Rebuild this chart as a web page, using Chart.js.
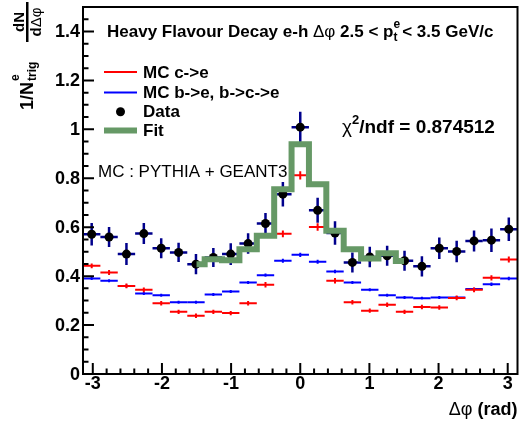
<!DOCTYPE html>
<html lang="en">
<head>
<meta charset="UTF-8">
<title>Heavy Flavour Decay e-h</title>
<script src="https://cdn.jsdelivr.net/npm/chart.js"></script>
<style>
  html, body { margin: 0; padding: 0; background: #fff; }
  canvas { display: block; }
</style>
</head>
<body>
<canvas id="grafico" width="522" height="421"></canvas>
<script>
  // binning: 25 bins in delta phi over [-pi, pi]
  const nBins = 25;
  const phiMin = -Math.PI;
  const phiMax = Math.PI;

  // data points and their errors
  const dataY = [0.571, 0.560, 0.490, 0.574, 0.514, 0.497, 0.449, 0.476, 0.490, 0.533, 0.615, 0.735, 1.009,
                 0.669, 0.576, 0.456, 0.478, 0.483, 0.463, 0.440, 0.514, 0.501, 0.544, 0.547, 0.592];
  const dataErr = [0.046, 0.041, 0.045, 0.043, 0.041, 0.039, 0.041, 0.039, 0.044, 0.042, 0.043, 0.050, 0.063,
                   0.051, 0.048, 0.041, 0.042, 0.041, 0.041, 0.041, 0.044, 0.044, 0.043, 0.048, 0.048];

  // MC c->e
  const mcCharm = [0.442, 0.415, 0.360, 0.344, 0.289, 0.254, 0.238, 0.254, 0.249, 0.289, 0.365, 0.573, 0.812,
                   0.601, 0.381, 0.293, 0.259, 0.283, 0.254, 0.274, 0.272, 0.311, 0.344, 0.393, 0.468];
  const mcCharmErr = [0.010, 0.010, 0.010, 0.010, 0.009, 0.009, 0.009, 0.009, 0.009, 0.009, 0.011, 0.014, 0.017,
                      0.015, 0.011, 0.009, 0.009, 0.009, 0.009, 0.009, 0.009, 0.010, 0.010, 0.011, 0.012];

  // MC b->e, b->c->e
  const mcBeauty = [0.390, 0.381, 0.360, 0.329, 0.322, 0.293, 0.293, 0.325, 0.337, 0.374, 0.404, 0.463, 0.487,
                    0.459, 0.419, 0.374, 0.344, 0.322, 0.313, 0.310, 0.313, 0.313, 0.347, 0.367, 0.390];
  const mcBeautyErr = [0.006, 0.006, 0.006, 0.006, 0.006, 0.006, 0.006, 0.006, 0.006, 0.006, 0.007, 0.008, 0.009,
                       0.008, 0.007, 0.006, 0.006, 0.006, 0.006, 0.006, 0.006, 0.006, 0.006, 0.007, 0.007];

  // fit, one value per bin from bin 6 to bin 18, range -1.5 .. 1.5
  const fitMin = -1.5;
  const fitMax = 1.5;
  const fitFirstBin = 6;
  const fitValues = [0.449, 0.469, 0.465, 0.510, 0.565, 0.755, 0.939, 0.776, 0.585, 0.510, 0.472, 0.494, 0.462];
  const chi2ndf = '0.874512';

  const xTicks = [-3, -2, -1, 0, 1, 2, 3];
  const yTicks = [0, 0.2, 0.4, 0.6, 0.8, 1, 1.2, 1.4];
  const yMax = 1.5;

  const binWidth = (phiMax - phiMin) / nBins;
  const binLow = i => phiMin + i * binWidth;
  const binCenter = i => phiMin + (i + 0.5) * binWidth;

  const pontosDados = dataY.map((y, i) => ({ x: binCenter(i), y: y }));

  // step line for the fit: starts at fitMin, changes at bin edges, ends at fitMax
  const pontosFit = fitValues.map((y, k) => ({ x: k === 0 ? fitMin : binLow(fitFirstBin + k), y: y }));
  pontosFit.push({ x: fitMax, y: fitValues[fitValues.length - 1] });

  const BOLD = "bold 17px 'Liberation Sans', Arial, sans-serif";
  const REG = "17px 'Liberation Sans', Arial, sans-serif";

  // draws a list of text pieces one after the other
  function textoRico(ctx, partes, x, y) {
    let cx = x;
    partes.forEach(p => {
      ctx.font = p.font;
      ctx.fillText(p.t, cx, y + (p.dy || 0));
      if (!p.noAdvance) cx += ctx.measureText(p.t).width;
    });
    return cx;
  }

  function largura(ctx, partes) {
    let w = 0;
    partes.forEach(p => { ctx.font = p.font; if (!p.noAdvance) w += ctx.measureText(p.t).width; });
    return w;
  }

  // MC histograms and data error bars, below the datasets
  const barrasPlugin = {
    id: 'barras',
    beforeDatasetsDraw(chart) {
      const ctx = chart.ctx;
      const xs = chart.scales.x, ys = chart.scales.y;
      ctx.save();
      ctx.lineCap = 'butt';

      function histo(vals, errs, cor) {
        ctx.strokeStyle = cor;
        ctx.lineWidth = 2;
        vals.forEach((v, i) => {
          const x1 = xs.getPixelForValue(binLow(i));
          const x2 = xs.getPixelForValue(binLow(i + 1));
          const xc = xs.getPixelForValue(binCenter(i));
          const yp = ys.getPixelForValue(v);
          ctx.beginPath();
          ctx.moveTo(x1, yp); ctx.lineTo(x2, yp);
          ctx.moveTo(xc, ys.getPixelForValue(v - errs[i]));
          ctx.lineTo(xc, ys.getPixelForValue(v + errs[i]));
          ctx.stroke();
        });
      }
      histo(mcBeauty, mcBeautyErr, '#0000ff');
      histo(mcCharm, mcCharmErr, '#ff0000');

      // data error bars
      ctx.strokeStyle = '#00008c';
      ctx.lineWidth = 2.5;
      dataY.forEach((v, i) => {
        const x1 = xs.getPixelForValue(binLow(i));
        const x2 = xs.getPixelForValue(binLow(i + 1));
        const xc = xs.getPixelForValue(binCenter(i));
        const yp = ys.getPixelForValue(v);
        ctx.beginPath();
        ctx.moveTo(x1, yp); ctx.lineTo(x2, yp);
        ctx.moveTo(xc, ys.getPixelForValue(v - dataErr[i]));
        ctx.lineTo(xc, ys.getPixelForValue(v + dataErr[i]));
        ctx.stroke();
      });
      ctx.restore();
    },

    afterDraw(chart) {
      const ctx = chart.ctx;
      const area = chart.chartArea;
      const xs = chart.scales.x, ys = chart.scales.y;
      ctx.save();
      ctx.fillStyle = '#000';
      ctx.strokeStyle = '#000';

      // frame
      ctx.lineWidth = 2;
      ctx.strokeRect(area.left, area.top, area.right - area.left, area.bottom - area.top);

      // ticks pointing into the frame
      ctx.beginPath();
      for (let k = 0; k * 0.05 <= yMax + 1e-9; k++) {
        const yp = ys.getPixelForValue(k * 0.05);
        const len = (k % 4 === 0) ? 11 : 5.5;
        ctx.moveTo(area.left, yp); ctx.lineTo(area.left + len, yp);
      }
      for (let k = -15; k <= 15; k++) {
        const v = k * 0.2;
        if (v < phiMin || v > phiMax) continue;
        const xp = xs.getPixelForValue(v);
        const len = (k % 5 === 0) ? 11 : 5.5;
        ctx.moveTo(xp, area.bottom); ctx.lineTo(xp, area.bottom - len);
      }
      ctx.stroke();

      // tick labels
      ctx.font = "bold 18px 'Liberation Sans', Arial, sans-serif";
      ctx.textAlign = 'right';
      ctx.textBaseline = 'middle';
      yTicks.forEach(v => ctx.fillText(String(v), area.left - 3, ys.getPixelForValue(v) + 1));
      ctx.textAlign = 'center';
      ctx.textBaseline = 'alphabetic';
      xTicks.forEach(v => ctx.fillText(String(v), xs.getPixelForValue(v), 389));

      // axis titles
      ctx.textAlign = 'left';
      const xTitulo = [
        { t: 'Δφ', font: "18px 'Liberation Sans', Arial, sans-serif" },
        { t: ' (rad)', font: "bold 18px 'Liberation Sans', Arial, sans-serif" }
      ];
      textoRico(ctx, xTitulo, area.right - largura(ctx, xTitulo), 415);

      // y title, rotated
      ctx.save();
      ctx.rotate(-Math.PI / 2);
      ctx.font = "bold 18px 'Liberation Sans', Arial, sans-serif";
      ctx.fillText('1/N', -110, 33);
      const wN = ctx.measureText('1/N').width;
      ctx.font = "bold 12px 'Liberation Sans', Arial, sans-serif";
      ctx.fillText('e', -110 + wN + 1, 19);
      ctx.fillText('trig', -110 + wN + 1, 36);
      // fraction dN / d delta phi
      const fc = -22;
      ctx.fillRect(-42, 26, 40, 2.5);
      ctx.font = "bold 15px 'Liberation Sans', Arial, sans-serif";
      ctx.textAlign = 'center';
      ctx.fillText('dN', fc, 24);
      const den = [
        { t: 'd', font: "bold 15px 'Liberation Sans', Arial, sans-serif" },
        { t: 'Δφ', font: "15px 'Liberation Sans', Arial, sans-serif" }
      ];
      ctx.textAlign = 'left';
      textoRico(ctx, den, fc - largura(ctx, den) / 2, 41);
      ctx.restore();

      // title
      const sub = "bold 12px 'Liberation Sans', Arial, sans-serif";
      textoRico(ctx, [
        { t: 'Heavy Flavour Decay e-h ', font: BOLD },
        { t: 'Δφ', font: REG },
        { t: ' 2.5 < p', font: BOLD },
        { t: 'e', font: sub, dy: -9, noAdvance: true },
        { t: 't', font: sub, dy: 4 },
        { t: ' < 3.5 GeV/c', font: BOLD }
      ], 107, 37);

      // chi2
      textoRico(ctx, [
        { t: 'χ', font: "19px 'Liberation Sans', Arial, sans-serif" },
        { t: '2', font: "bold 13px 'Liberation Sans', Arial, sans-serif", dy: -9 },
        { t: '/ndf = ' + chi2ndf, font: "bold 19px 'Liberation Sans', Arial, sans-serif" }
      ], 342, 133);

      ctx.font = REG;
      ctx.fillText('MC : PYTHIA + GEANT3', 98, 177);

      // legend
      const legFont = "bold 17px 'Liberation Sans', Arial, sans-serif";
      const lx1 = 104, lx2 = 137, tx = 143;
      const linhas = [72, 92.5, 111.7, 130.5];
      ctx.lineWidth = 2;
      ctx.strokeStyle = '#ff0000';
      ctx.beginPath(); ctx.moveTo(lx1, linhas[0]); ctx.lineTo(lx2, linhas[0]); ctx.stroke();
      ctx.strokeStyle = '#0000ff';
      ctx.beginPath(); ctx.moveTo(lx1, linhas[1]); ctx.lineTo(lx2, linhas[1]); ctx.stroke();
      ctx.fillStyle = '#000';
      ctx.beginPath(); ctx.arc((lx1 + lx2) / 2, linhas[2], 4.5, 0, 2 * Math.PI); ctx.fill();
      ctx.strokeStyle = '#669966';
      ctx.lineWidth = 6;
      ctx.beginPath(); ctx.moveTo(lx1, linhas[3]); ctx.lineTo(lx2, linhas[3]); ctx.stroke();
      ctx.font = legFont;
      ctx.textBaseline = 'middle';
      ['MC c->e', 'MC b->e, b->c->e', 'Data', 'Fit'].forEach((t, i) => ctx.fillText(t, tx, linhas[i] + 1));

      ctx.restore();
    }
  };

  const ctx1 = document.getElementById('grafico').getContext('2d');
  const grafico = new Chart(ctx1, {
    type: 'scatter',
    data: {
      datasets: [{
        label: 'Fit',
        type: 'line',
        data: pontosFit,
        stepped: true,
        borderColor: '#669966',
        borderWidth: 6,
        borderJoinStyle: 'miter',
        pointRadius: 0,
        fill: false,
        order: 0
      }, {
        label: 'Data',
        data: pontosDados,
        backgroundColor: '#000',
        borderWidth: 0,
        pointRadius: 4.5,
        order: 1
      }]
    },
    options: {
      responsive: false,
      animation: false,
      layout: { padding: { left: 83, right: 1, top: 7, bottom: 47 } },
      scales: {
        x: { type: 'linear', min: phiMin, max: phiMax, display: false },
        y: { min: 0, max: yMax, display: false }
      },
      plugins: {
        legend: { display: false },
        tooltip: { enabled: false }
      }
    },
    plugins: [barrasPlugin]
  });
</script>
</body>
</html>
